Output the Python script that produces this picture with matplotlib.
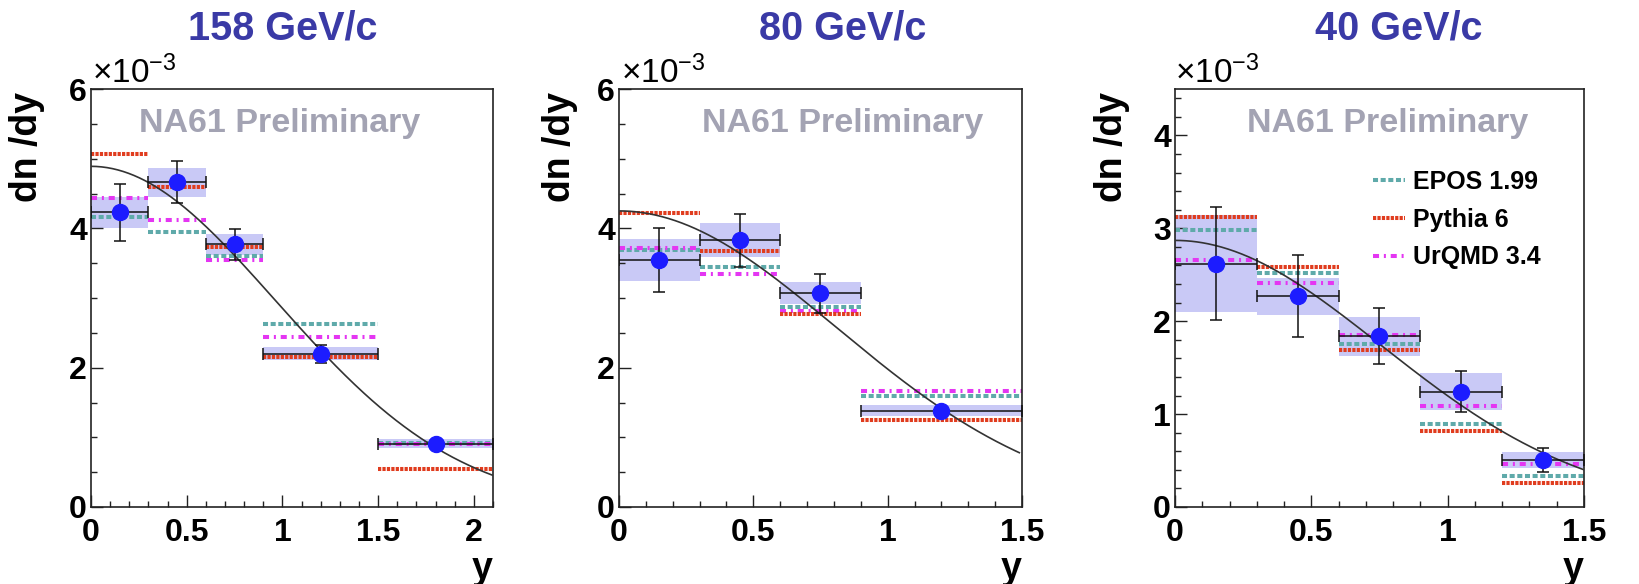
import numpy as np
import matplotlib
matplotlib.use("Agg")
import matplotlib.pyplot as plt
from matplotlib.lines import Line2D
from matplotlib.ticker import MultipleLocator, FixedLocator

plt.rcParams['font.family'] = ['Liberation Sans', 'DejaVu Sans']
plt.rcParams['mathtext.fontset'] = 'custom'
plt.rcParams['mathtext.rm'] = 'Liberation Sans'
plt.rcParams['mathtext.it'] = 'Liberation Sans'

# ---------------- data (dn/dy in units of 1e-3) ----------------
titles = ["158 GeV/c", "80 GeV/c", "40 GeV/c"]

edges158 = [0.0, 0.3, 0.6, 0.9, 1.5, 2.1]
dndy158 = [4.23, 4.66, 3.77, 2.20, 0.91]
stat158 = [0.41, 0.30, 0.22, 0.13, 0.05]
syst158 = [0.22, 0.21, 0.15, 0.09, 0.07]
epos158 = [4.16, 3.95, 3.60, 2.62, 0.92]
pythia158 = [5.06, 4.60, 3.73, 2.16, 0.545]
urqmd158 = [4.43, 4.12, 3.55, 2.44, 0.90]
fit158 = (4.89, 0.963)   # Gaussian fit: amplitude, sigma

edges80 = [0.0, 0.3, 0.6, 0.9, 1.5]
dndy80 = [3.55, 3.83, 3.07, 1.38]
stat80 = [0.46, 0.38, 0.28, 0.05]
syst80 = [0.30, 0.24, 0.16, 0.08]
epos80 = [3.69, 3.44, 2.87, 1.60]
pythia80 = [4.22, 3.68, 2.77, 1.25]
urqmd80 = [3.72, 3.35, 2.82, 1.66]
fit80 = (4.25, 0.809)

edges40 = [0.0, 0.3, 0.6, 0.9, 1.2, 1.5]
dndy40 = [2.62, 2.27, 1.84, 1.24, 0.505]
stat40 = [0.61, 0.44, 0.30, 0.22, 0.13]
syst40 = [0.52, 0.20, 0.21, 0.20, 0.09]
epos40 = [2.98, 2.52, 1.75, 0.89, 0.33]
pythia40 = [3.12, 2.58, 1.69, 0.82, 0.26]
urqmd40 = [2.66, 2.41, 1.85, 1.09, 0.46]
fit40 = (2.87, 0.756)

model_labels = ["EPOS 1.99", "Pythia 6", "UrQMD 3.4"]

# ---------------- styles ----------------
C_EPOS = '#5faaaa'
C_PYTHIA = '#e03c1e'
C_URQMD = '#e436f2'
C_BOX = '#c9c9f6'
C_MARK = '#1c1cff'
C_TITLE = '#3a3aa6'
C_PRELIM = '#a3a3b3'
LW = 2.9
LS_EPOS = (0, (1.25, 0.65))
LS_PYTHIA = (0, (0.8, 0.3))
LS_URQMD = (0, (1.5, 1.2, 0.5, 1.2))

fig = plt.figure(figsize=(16.4, 5.84), dpi=100)
W, H = 1640.0, 584.0

def pos(l, r, t=89, b=507):
    return [l / W, 1 - b / H, (r - l) / W, (b - t) / H]

panels = [
    dict(rect=pos(91, 493), edges=edges158, val=dndy158, stat=stat158, syst=syst158,
         models=(epos158, pythia158, urqmd158), fit=fit158, xmax=2.1, ymax=6.0,
         ymaj=2, ymin=0.5, xticks=[0, 0.5, 1, 1.5, 2], xtl=["0", "0.5", "1", "1.5", "2"],
         title_x=283, prelim_x=0.47, ylab_x=27, expo_x=92, fitmax=2.1),
    dict(rect=pos(619, 1022), edges=edges80, val=dndy80, stat=stat80, syst=syst80,
         models=(epos80, pythia80, urqmd80), fit=fit80, xmax=1.5, ymax=6.0,
         ymaj=2, ymin=0.5, xticks=[0, 0.5, 1, 1.5], xtl=["0", "0.5", "1", "1.5"],
         title_x=843, prelim_x=0.555, ylab_x=560, expo_x=621, fitmax=1.49),
    dict(rect=pos(1175, 1584), edges=edges40, val=dndy40, stat=stat40, syst=syst40,
         models=(epos40, pythia40, urqmd40), fit=fit40, xmax=1.5, ymax=4.5,
         ymaj=1, ymin=0.2, xticks=[0, 0.5, 1, 1.5], xtl=["0", "0.5", "1", "1.5"],
         title_x=1399, prelim_x=0.52, ylab_x=1112, expo_x=1175, fitmax=1.5),
]

for i, p in enumerate(panels):
    ax = fig.add_axes(p['rect'])
    e = np.array(p['edges'])
    c = 0.5 * (e[:-1] + e[1:])
    w = e[1:] - e[:-1]
    v = np.array(p['val'])
    st = np.array(p['stat'])
    sy = np.array(p['syst'])

    # systematic boxes
    ax.bar(c, 2 * sy, bottom=v - sy, width=w, color=C_BOX, edgecolor='none', zorder=1)

    # model predictions
    ep, py, ur = p['models']
    ax.hlines(ep, e[:-1], e[1:], colors=C_EPOS, linestyles=[LS_EPOS], linewidth=LW, zorder=2)
    ax.hlines(ur, e[:-1], e[1:], colors=C_URQMD, linestyles=[LS_URQMD], linewidth=LW, zorder=2)
    ax.hlines(py, e[:-1], e[1:], colors=C_PYTHIA, linestyles=[LS_PYTHIA], linewidth=LW, zorder=2)

    # fit curve
    A, sig = p['fit']
    xf = np.linspace(0, p['fitmax'], 300)
    ax.plot(xf, A * np.exp(-xf ** 2 / (2 * sig ** 2)), color='#333333', lw=1.2, zorder=3)

    # data points
    ax.errorbar(c, v, xerr=w / 2, yerr=st, fmt='o', color='k', ecolor='#111111',
                mfc=C_MARK, mec=C_MARK, ms=11.5, elinewidth=1.1, capsize=4.2,
                capthick=1.1, zorder=5)

    ax.set_xlim(0, p['xmax'])
    ax.set_ylim(0, p['ymax'])
    ax.xaxis.set_major_locator(FixedLocator(p['xticks']))
    ax.set_xticklabels(p['xtl'])
    ax.xaxis.set_minor_locator(MultipleLocator(0.1))
    ax.yaxis.set_major_locator(MultipleLocator(p['ymaj']))
    ax.yaxis.set_minor_locator(MultipleLocator(p['ymin']))
    ax.tick_params(which='both', direction='in', top=False, right=False, width=1.0,
                   color='#222222')
    ax.tick_params(which='major', length=8.6)
    ax.tick_params(which='minor', length=4.3)
    ax.tick_params(axis='x', which='major', labelsize=23, pad=8)
    ax.tick_params(axis='y', which='major', labelsize=23, pad=3)
    for lab in ax.get_xticklabels() + ax.get_yticklabels():
        lab.set_fontweight('bold')
    for s in ax.spines.values():
        s.set_linewidth(1.2)
        s.set_color('#222222')

    # texts
    fig.text(p['title_x'] / W, 1 - 29 / H, titles[i], color=C_TITLE, fontsize=28.5,
             fontweight='bold', ha='center', va='center')
    ax.text(p['prelim_x'], 0.918, "NA61 Preliminary", transform=ax.transAxes,
            color=C_PRELIM, fontsize=24.5, fontweight='bold', ha='center', va='center')
    fig.text(p['ylab_x'] / W, 1 - 92 / H, "dn /dy", rotation=90, fontsize=27,
             fontweight='bold', ha='center', va='top')
    fig.text((p['rect'][0] + p['rect'][2]), 1 - 569 / H, "y", fontsize=27,
             fontweight='bold', ha='right', va='center')
    fig.text(p['expo_x'] / W, 1 - 83 / H, r'$\times10^{-3}$', fontsize=24,
             ha='left', va='baseline')

    if i == 2:
        handles = [Line2D([], [], color=C_EPOS, lw=LW, ls=LS_EPOS),
                   Line2D([], [], color=C_PYTHIA, lw=LW, ls=LS_PYTHIA),
                   Line2D([], [], color=C_URQMD, lw=LW, ls=LS_URQMD)]
        leg = ax.legend(handles, model_labels, loc='upper left',
                        bbox_to_anchor=(1373 / W, 1 - 170 / H),
                        bbox_transform=fig.transFigure, frameon=False,
                        prop={'size': 18, 'weight': 'bold'}, handlelength=1.3,
                        handletextpad=0.3, labelspacing=0.55, borderpad=0,
                        borderaxespad=0)

fig.savefig("out.png", dpi=100)
